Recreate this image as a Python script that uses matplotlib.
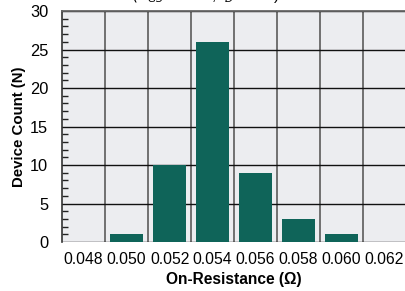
import numpy as np
import matplotlib.pyplot as plt
from matplotlib.ticker import MultipleLocator

plt.rcParams['font.family'] = ['Liberation Sans', 'DejaVu Sans']

# Histogram of on-resistance
bins = ['0.048', '0.050', '0.052', '0.054', '0.056', '0.058', '0.060', '0.062']
counts = [0, 1, 10, 26, 9, 3, 1, 0]

fig = plt.figure(figsize=(4.06, 2.91), dpi=100)
ax = fig.add_axes([0.153, 0.168, 0.847, 0.794])
ax.set_facecolor('#ecedf0')

x = np.arange(len(bins))
ax.bar(x, counts, width=0.76, color='#0f6459', zorder=3)

ax.set_xlim(-0.5, len(bins) - 0.5)
ax.set_ylim(0, 30)
ax.set_xticks(x)
ax.set_xticklabels(bins)
ax.set_xticks(x[:-1] + 0.5, minor=True)
ax.yaxis.set_major_locator(MultipleLocator(5))
ax.yaxis.set_minor_locator(MultipleLocator(1))

# grid lines on cell boundaries
ax.grid(True, which='minor', axis='x', color='#666666', linewidth=1.3, zorder=1)
ax.grid(True, which='major', axis='y', color='#111111', linewidth=1.0, zorder=1)

ax.tick_params(axis='x', which='both', length=0, labelsize=11.3, pad=7)
ax.tick_params(axis='y', which='major', length=0, labelsize=11.8, pad=10)
ax.tick_params(axis='y', which='minor', direction='in', length=4, width=1, color='#222222')

for s in ['right', 'bottom']:
    ax.spines[s].set_visible(False)
ax.spines['top'].set_color('#666666')
ax.spines['top'].set_linewidth(1.3)
ax.spines['left'].set_color('#333333')
ax.spines['left'].set_linewidth(1.2)

ax.set_xlabel('On-Resistance (Ω)', fontsize=11.2, fontweight='bold', labelpad=4)
ax.set_ylabel('Device Count (N)', fontsize=10.8, fontweight='bold', labelpad=3)

# title sits mostly above the picture, as in the source
fig.text(0.505, 1.0, r'$(V_{GS}$ = 10 V, $I_D$ = 5 A)', ha='center',
         va='baseline', fontsize=11)

fig.savefig('out.png', dpi=100)
